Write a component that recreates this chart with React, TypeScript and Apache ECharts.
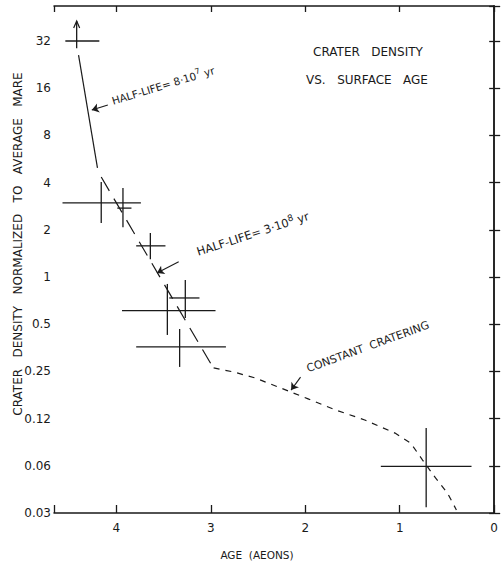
import React, { useEffect, useRef } from 'react';
import * as echarts from 'echarts';

// ---- Data ----
// Crater-density measurements with error crosses
const ages = [4.42, 4.16, 3.93, 3.64, 3.46, 3.27, 3.33, 0.72];
const ageOlder = [4.54, 4.57, 3.99, 3.79, 3.94, 3.44, 3.79, 1.2];
const ageYounger = [4.18, 3.74, 3.84, 3.48, 2.95, 3.12, 2.84, 0.24];
const density = [32, 2.97, 2.75, 1.58, 0.61, 0.735, 0.358, 0.062];
const densityLow = [28.8, 2.21, 2.08, 1.3, 0.427, 0.548, 0.267, 0.034];
const densityHigh = [42.9, 4.03, 3.7, 1.91, 0.903, 0.957, 0.466, 0.109];
const lowerLimit = [true, false, false, false, false, false, false, false];

// Half-life 8e7 yr (solid)
const hl8Ages = [4.4, 4.2];
const hl8Density = [26.0, 4.96];
// Half-life 3e8 yr (long dashes)
const hl3Ages = [4.16, 2.98];
const hl3Density = [4.34, 0.267];
// Constant cratering (short dashes)
const ccAges = [2.97, 2.76, 2.53, 2.18, 1.97, 1.68, 1.37, 1.05, 0.884, 0.758, 0.621, 0.495, 0.4];
const ccDensity = [0.263, 0.248, 0.227, 0.1875, 0.167, 0.142, 0.1225, 0.101, 0.0873, 0.068, 0.0523, 0.0419, 0.0327];

// Annotation arrows [fromAge, fromDensity, toAge, toDensity]
const arrowHl8 = [4.09, 12.5, 4.26, 11.6];
const arrowHl3 = [3.34, 1.25, 3.57, 1.06];
const arrowCc = [2.05, 0.23, 2.15, 0.19];

// Tick labels
const xTickLabels = ['0', '1', '2', '3', '4'];
const yTickLabels = ['0.03', '0.06', '0.12', '0.25', '0.5', '1', '2', '4', '8', '16', '32'];

const INK = '#1a1a1a';
const FONT = 'DejaVu Sans';

export default function App() {
  const ref = useRef<HTMLDivElement>(null);

  useEffect(() => {
    const chart = echarts.init(ref.current!, null, { renderer: 'svg' });

    const xFmt = (v: number) => {
      const r = Math.round(v);
      return Math.abs(v - r) < 1e-6 && xTickLabels[r] !== undefined ? xTickLabels[r] : '';
    };
    const yFmt = (v: number) => {
      const l = Math.log2(v);
      const k = Math.round(l);
      if (Math.abs(l - k) > 0.01) return '';
      return yTickLabels[k + 5] ?? '';
    };

    const xCommon = {
      type: 'value',
      inverse: true,
      min: 0,
      max: 4.66,
      interval: 1,
      splitLine: { show: false },
      axisLine: { show: true, lineStyle: { color: INK, width: 1.5 } },
    };
    const yCommon = {
      type: 'log',
      logBase: 2,
      min: 0.03125,
      max: 53.5,
      interval: 1,
      splitLine: { show: false },
      minorTick: { show: false },
      axisLine: { show: true, lineStyle: { color: INK, width: 1.5 } },
    };

    const mkArrow = (a: number[]) => [
      { coord: [a[0], a[1]] },
      { coord: [a[2], a[3]] },
    ];

    const option: any = {
      animation: false,
      backgroundColor: '#ffffff',
      grid: { left: 54, right: 4, top: 6, bottom: 53, containLabel: false },
      xAxis: [
        {
          ...xCommon,
          position: 'bottom',
          axisTick: { show: true, inside: true, length: 8, lineStyle: { color: INK, width: 1.3 } },
          axisLabel: { formatter: xFmt, color: INK, fontSize: 12, margin: 9, fontFamily: FONT },
        },
        {
          ...xCommon,
          position: 'top',
          axisTick: { show: true, inside: true, length: 6, lineStyle: { color: INK, width: 1.3 } },
          axisLabel: { show: false },
        },
      ],
      yAxis: [
        {
          ...yCommon,
          position: 'left',
          axisTick: { show: true, inside: true, length: 6, lineStyle: { color: INK, width: 1.3 } },
          axisLabel: { formatter: yFmt, color: INK, fontSize: 12, margin: 3, fontFamily: FONT },
        },
        {
          ...yCommon,
          position: 'right',
          axisTick: { show: true, inside: true, length: 5, lineStyle: { color: INK, width: 1.3 } },
          axisLabel: { show: false },
        },
      ],
      series: [
        {
          type: 'custom',
          xAxisIndex: 0,
          yAxisIndex: 0,
          silent: true,
          encode: { x: 0, y: 1 },
          data: ages.map((a, i) => [a, density[i], ageOlder[i], ageYounger[i], densityLow[i], densityHigh[i], lowerLimit[i] ? 1 : 0]),
          renderItem: (_p: any, api: any) => {
            const x = api.value(0);
            const y = api.value(1);
            const c = api.coord([x, y]);
            const xl = api.coord([api.value(2), y]);
            const xh = api.coord([api.value(3), y]);
            const yl = api.coord([x, api.value(4)]);
            const yh = api.coord([x, api.value(5)]);
            const st = { stroke: INK, lineWidth: 1.3, fill: null };
            const children: any[] = [
              { type: 'line', shape: { x1: xl[0], y1: c[1], x2: xh[0], y2: c[1] }, style: st },
              { type: 'line', shape: { x1: c[0], y1: yl[1], x2: c[0], y2: yh[1] }, style: st },
            ];
            if (api.value(6) === 1) {
              children.push({
                type: 'polyline',
                shape: { points: [[c[0] - 3, yh[1] + 7], [c[0], yh[1]], [c[0] + 3, yh[1] + 7]] },
                style: { fill: null, stroke: INK, lineWidth: 1.2 },
              });
            }
            return { type: 'group', children };
          },
        },
        {
          type: 'line',
          silent: true,
          symbol: 'none',
          data: hl8Ages.map((a, i) => [a, hl8Density[i]]),
          lineStyle: { color: INK, width: 1.2 },
          markLine: {
            silent: true,
            symbol: ['none', 'arrow'],
            symbolSize: 7,
            label: { show: false },
            lineStyle: { color: INK, width: 1.1, type: 'solid' },
            data: [mkArrow(arrowHl8), mkArrow(arrowHl3), mkArrow(arrowCc)],
          },
        },
        {
          type: 'line',
          silent: true,
          symbol: 'none',
          data: hl3Ages.map((a, i) => [a, hl3Density[i]]),
          lineStyle: { color: INK, width: 1.2, type: [16, 9] },
        },
        {
          type: 'line',
          silent: true,
          symbol: 'none',
          data: ccAges.map((a, i) => [a, ccDensity[i]]),
          lineStyle: { color: INK, width: 1.2, type: [6, 6] },
        },
      ],
      graphic: [
        {
          type: 'text',
          x: 368,
          y: 52,
          style: { text: 'CRATER   DENSITY', font: `12px "${FONT}"`, fill: INK, align: 'center', verticalAlign: 'middle' },
        },
        {
          type: 'text',
          x: 367,
          y: 80,
          style: { text: 'VS.   SURFACE   AGE', font: `12px "${FONT}"`, fill: INK, align: 'center', verticalAlign: 'middle' },
        },
        {
          type: 'text',
          x: 18,
          y: 244,
          rotation: Math.PI / 2,
          style: {
            text: 'CRATER   DENSITY   NORMALIZED   TO   AVERAGE   MARE',
            font: `12px "${FONT}"`,
            fill: INK,
            align: 'center',
            verticalAlign: 'middle',
          },
        },
        {
          type: 'text',
          x: 257,
          y: 555,
          style: { text: 'AGE  (AEONS)', font: `10.5px "${FONT}"`, fill: INK, align: 'center', verticalAlign: 'middle' },
        },
        {
          type: 'text',
          x: 112,
          y: 101,
          rotation: (17 * Math.PI) / 180,
          style: {
            text: '{a|HALF-LIFE= 8·10}{s|7}{a| yr}',
            fill: INK,
            align: 'left',
            verticalAlign: 'middle',
            rich: {
              a: { fontSize: 10.5, fontFamily: FONT, fill: INK, color: INK, lineHeight: 15 },
              s: { fontSize: 8, fontFamily: FONT, fill: INK, color: INK, lineHeight: 8, verticalAlign: 'top' },
            },
          },
        },
        {
          type: 'text',
          x: 197,
          y: 252,
          rotation: (18 * Math.PI) / 180,
          style: {
            text: '{a|HALF-LIFE= 3·10}{s|8}{a| yr}',
            fill: INK,
            align: 'left',
            verticalAlign: 'middle',
            rich: {
              a: { fontSize: 11.5, fontFamily: FONT, fill: INK, color: INK, lineHeight: 16 },
              s: { fontSize: 9, fontFamily: FONT, fill: INK, color: INK, lineHeight: 9, verticalAlign: 'top' },
            },
          },
        },
        {
          type: 'text',
          x: 307,
          y: 369,
          rotation: (20 * Math.PI) / 180,
          style: {
            text: 'CONSTANT  CRATERING',
            font: `11px "${FONT}"`,
            fill: INK,
            align: 'left',
            verticalAlign: 'middle',
          },
        },
      ],
    };

    chart.setOption(option);
    return () => chart.dispose();
  }, []);

  return (
    <div
      ref={ref}
      style={{ position: 'absolute', left: 0, top: 0, width: 501, height: 566, background: '#fff' }}
    />
  );
}
